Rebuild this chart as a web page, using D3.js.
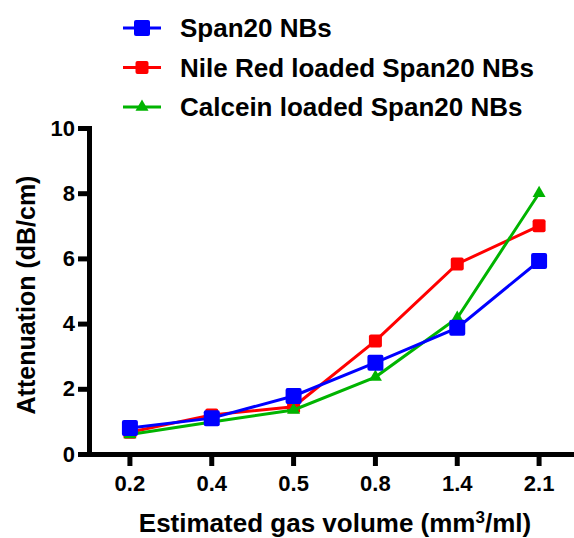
<!DOCTYPE html>
<html>
<head>
<meta charset="utf-8">
<script src="https://cdn.jsdelivr.net/npm/d3@7"></script>
<style>
  body { margin: 0; background: #fff; }
  text { font-family: "Liberation Sans", Arial, sans-serif; font-weight: bold; fill: #000; }
</style>
</head>
<body>
<div id="container"></div>
<script>
/* DATA */
const volumes = ["0.2", "0.4", "0.5", "0.8", "1.4", "2.1"];
const span20 = [0.8, 1.1, 1.78, 2.8, 3.87, 5.92];
const nileRed = [0.67, 1.2, 1.45, 3.47, 5.83, 7.0];
const calcein = [0.6, 0.98, 1.35, 2.36, 4.17, 8.0];
const yTicks = [0, 2, 4, 6, 8, 10];

const seriesNames = ["Span20 NBs", "Nile Red loaded Span20 NBs", "Calcein loaded Span20 NBs"];

/* CONSTANTS */
const width = 574,
  height = 538,
  margin = { top: 128, bottom: 84, left: 89, right: -6 };

const series = [
  { name: seriesNames[1], values: nileRed, color: "#ff0000", shape: "square", size: 13 },
  { name: seriesNames[2], values: calcein, color: "#00b400", shape: "triangle", size: 13 },
  { name: seriesNames[0], values: span20, color: "#0000ff", shape: "square", size: 16 },
];
const legendOrder = [series[2], series[0], series[1]];

const svg = d3.select("#container")
  .append("svg")
  .attr("width", width)
  .attr("height", height)

// SCALES
const xScale = d3.scaleBand()
  .domain(volumes)
  .range([margin.left, width - margin.right])

const yScale = d3.scaleLinear()
  .domain([0, 10])
  .range([height - margin.bottom, margin.top])

// AXES
const xAxis = svg.append("g")
  .attr("transform", `translate(0,${yScale(0)})`)
  .call(d3.axisBottom(xScale).tickSize(12).tickSizeOuter(0).tickPadding(9))

const yAxis = svg.append("g")
  .attr("transform", `translate(${margin.left},0)`)
  .call(d3.axisLeft(yScale).tickValues(yTicks).tickSize(11).tickSizeOuter(0).tickPadding(3))

;[xAxis, yAxis].forEach(ax => {
  ax.select(".domain").attr("stroke", "#000").attr("stroke-width", 5).attr("stroke-linecap", "square")
  ax.selectAll(".tick line").attr("stroke", "#000").attr("stroke-width", 5)
  ax.selectAll(".tick text")
    .style("font-size", "22px")
    .style("font-family", "'Liberation Sans', Arial, sans-serif")
    .style("font-weight", "bold")
    .attr("fill", "#000")
})

// AXIS TITLES
const xTitle = svg.append("text")
  .attr("x", 335)
  .attr("y", 532)
  .attr("text-anchor", "middle")
  .style("font-size", "26px")
xTitle.append("tspan").text("Estimated gas volume (mm")
xTitle.append("tspan").attr("dy", -9).style("font-size", "17px").text("3")
xTitle.append("tspan").attr("dy", 9).text("/ml)")

svg.append("text")
  .attr("transform", "translate(35,295) rotate(-90)")
  .attr("text-anchor", "middle")
  .style("font-size", "25px")
  .text("Attenuation (dB/cm)")

// MARKER HELPER
function drawMarker(g, s, x, y) {
  if (s.shape === "square") {
    g.append("rect")
      .attr("x", x - s.size / 2)
      .attr("y", y - s.size / 2)
      .attr("width", s.size)
      .attr("height", s.size)
      .attr("rx", 2)
      .attr("fill", s.color)
  } else {
    g.append("path")
      .attr("d", d3.symbol(d3.symbolTriangle, 0.433 * s.size * s.size)())
      .attr("transform", `translate(${x},${y})`)
      .attr("fill", s.color)
  }
}

// LINES + MARKERS
const lineGen = d3.line()
  .x((d, i) => xScale(volumes[i]) + xScale.bandwidth() / 2)
  .y(d => yScale(d))

series.forEach(s => {
  const g = svg.append("g")
  g.append("path")
    .attr("d", lineGen(s.values))
    .attr("fill", "none")
    .attr("stroke", s.color)
    .attr("stroke-width", 3)
  s.values.forEach((v, i) => {
    drawMarker(g, s, xScale(volumes[i]) + xScale.bandwidth() / 2, yScale(v))
  })
})

// LEGEND
const legend = svg.append("g")
legendOrder.forEach((s, i) => {
  const cy = 28 + i * 39.5
  const g = legend.append("g")
  g.append("line")
    .attr("x1", 123).attr("x2", 161)
    .attr("y1", cy).attr("y2", cy)
    .attr("stroke", s.color)
    .attr("stroke-width", 3)
  drawMarker(g, s, 142, cy)
  g.append("text")
    .attr("x", 180)
    .attr("y", cy + 9)
    .style("font-size", "26px")
    .text(s.name)
})
</script>
